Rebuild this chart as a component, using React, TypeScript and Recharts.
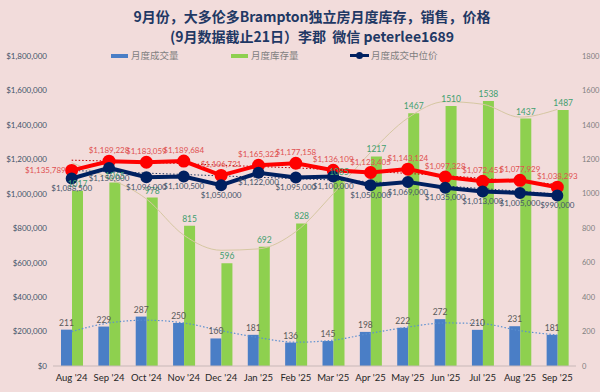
import { ComposedChart, Bar, Line, XAxis, YAxis, LabelList } from "recharts";

const months = ["Aug '24", "Sep '24", "Oct '24", "Nov '24", "Dec '24", "Jan '25", "Feb '25", "Mar '25", "Apr '25", "May '25", "Jun '25", "Jul '25", "Aug '25", "Sep '25"];
const sales = [211, 229, 287, 250, 160, 181, 136, 145, 198, 222, 272, 210, 231, 181];
const inventory = [1017, 1065, 978, 815, 596, 692, 828, 1085, 1217, 1467, 1510, 1538, 1437, 1487];
const medianPrice = [1088500, 1150000, 1096000, 1100500, 1050000, 1122000, 1095000, 1100000, 1050000, 1069000, 1035000, 1013000, 1005000, 990000];
const avgPrice = [1135789, 1189228, 1183059, 1189684, 1106721, 1165322, 1177158, 1136109, 1123405, 1143124, 1097328, 1072451, 1077929, 1038293];

// trendlines
const salesTrend = [200, 250, 266, 250, 205, 165, 138, 150, 190, 226, 250, 245, 205, 180];
const inventoryTrend = [1180, 1090, 970, 760, 672, 680, 780, 1000, 1240, 1440, 1535, 1520, 1445, 1490];
const avgTrend = [1195000, 1190000, 1183000, 1175000, 1166000, 1158000, 1150000, 1140000, 1130000, 1118000, 1105000, 1090000, 1073000, 1055000];
const medianTrend = [1135000, 1128000, 1120000, 1112000, 1104000, 1096000, 1088000, 1080000, 1070000, 1058000, 1045000, 1030000, 1015000, 998000];

const leftTicks = [0, 200000, 400000, 600000, 800000, 1000000, 1200000, 1400000, 1600000, 1800000];
const rightTicks = [0, 200, 400, 600, 800, 1000, 1200, 1400, 1600, 1800];

const data = months.map((m, i) => ({
  month: m,
  sales: sales[i],
  inventory: inventory[i],
  median: medianPrice[i],
  avg: avgPrice[i],
  salesTrend: salesTrend[i],
  inventoryTrend: inventoryTrend[i],
  avgTrend: avgTrend[i],
  medianTrend: medianTrend[i],
}));

const money = (v: number) => "$" + v.toLocaleString("en-US");
const font = "Lato, 'Noto Sans', sans-serif";
const cjk = "'Noto Sans CJK SC', sans-serif";

// red labels sit above the points, the first one to the left like the original
const AvgLabel = (props: any) => {
  const { x, y, value, index } = props;
  const first = index === 0;
  return (
    <text x={first ? x - 6 : x} y={first ? y + 3 : y - 8} textAnchor={first ? "end" : "middle"} fontSize={8} fill="#e05050" fontFamily={font}>
      {money(Number(value))}
    </text>
  );
};

export default function App() {
  return (
    <div style={{ position: "fixed", left: 0, top: 0, width: 600, height: 392, background: "#f2dcdb", fontFamily: font }}>
      <div style={{ position: "absolute", top: 6, left: 0, width: 624, textAlign: "center", color: "#1f3864", fontWeight: 700, fontSize: 14, lineHeight: "20px", fontFamily: cjk }}>
        <div>9月份，大多伦多Brampton独立房月度库存，销售，价格</div>
        <div>(9月数据截止21日）李郡&nbsp; 微信 peterlee1689</div>
      </div>
      <div style={{ position: "absolute", top: 48, left: 0, width: 600, height: 16, fontSize: 9.5, color: "#7f7f7f", fontFamily: cjk }}>
        <div style={{ position: "absolute", left: 111, top: 6, width: 17, height: 4, background: "#4a7ec6" }} />
        <div style={{ position: "absolute", left: 131, top: 0 }}>月度成交量</div>
        <div style={{ position: "absolute", left: 231, top: 6, width: 17, height: 4, background: "#8ed04f" }} />
        <div style={{ position: "absolute", left: 251, top: 0 }}>月度库存量</div>
        <div style={{ position: "absolute", left: 350, top: 6, width: 19, height: 3, background: "#002060" }} />
        <div style={{ position: "absolute", left: 356, top: 4, width: 7, height: 7, borderRadius: 4, background: "#002060" }} />
        <div style={{ position: "absolute", left: 371, top: 0 }}>月度成交中位价</div>
      </div>
      <ComposedChart width={600} height={392} data={data} margin={{ top: 56, right: 0, bottom: 0, left: 3 }} barGap={0} style={{ position: "absolute", left: 0, top: 0 }}>
        <XAxis dataKey="month" height={26} tickLine={false} axisLine={{ stroke: "#c8b8b8" }} tick={{ fontSize: 9.5, fill: "#262626", fontFamily: font }} interval={0} />
        <YAxis yAxisId="l" width={50} domain={[0, 1800000]} ticks={leftTicks} tickFormatter={money} axisLine={false} tickLine={false} tickSize={4} tick={{ fontSize: 8, fill: "#44546a", fontFamily: font }} />
        <YAxis yAxisId="r" orientation="right" width={24} domain={[0, 1800]} ticks={rightTicks} axisLine={false} tickLine={false} tickSize={5} tickMargin={1} tick={{ fontSize: 7.5, fill: "#7f7f7f", fontFamily: font }} />
        <Bar yAxisId="r" dataKey="sales" fill="#4a7ec6" barSize={11} isAnimationActive={false}>
          <LabelList dataKey="sales" position="top" offset={4} style={{ fontSize: 8.5, fill: "#595959", fontFamily: font }} />
        </Bar>
        <Bar yAxisId="r" dataKey="inventory" fill="#8ed04f" barSize={11} isAnimationActive={false}>
          <LabelList dataKey="inventory" position="top" offset={4} style={{ fontSize: 8.5, fill: "#3f9f6f", fontFamily: font }} />
        </Bar>
        <Line yAxisId="r" dataKey="salesTrend" type="monotone" stroke="#5b8fd0" strokeWidth={1.2} strokeDasharray="1.5 2" dot={false} isAnimationActive={false} />
        <Line yAxisId="r" dataKey="inventoryTrend" type="monotone" stroke="#d6c7a2" strokeWidth={1} dot={false} isAnimationActive={false} />
        <Line yAxisId="l" dataKey="avgTrend" type="monotone" stroke="#c00000" strokeWidth={1} strokeDasharray="1.5 2" dot={false} isAnimationActive={false} />
        <Line yAxisId="l" dataKey="medianTrend" type="monotone" stroke="#1f3864" strokeWidth={1} strokeDasharray="1.5 2" dot={false} isAnimationActive={false} />
        <Line yAxisId="l" dataKey="avg" type="linear" stroke="#ff0000" strokeWidth={4} dot={{ r: 4.5, fill: "#ff0000", stroke: "#ff0000" }} isAnimationActive={false}>
          <LabelList dataKey="avg" content={AvgLabel} />
        </Line>
        <Line yAxisId="l" dataKey="median" type="linear" stroke="#002060" strokeWidth={4} dot={{ r: 4, fill: "#002060", stroke: "#002060" }} isAnimationActive={false}>
          <LabelList dataKey="median" position="bottom" offset={7} formatter={(v: any) => money(Number(v))} style={{ fontSize: 8, fill: "#44546a", fontFamily: font }} />
        </Line>
      </ComposedChart>
    </div>
  );
}
